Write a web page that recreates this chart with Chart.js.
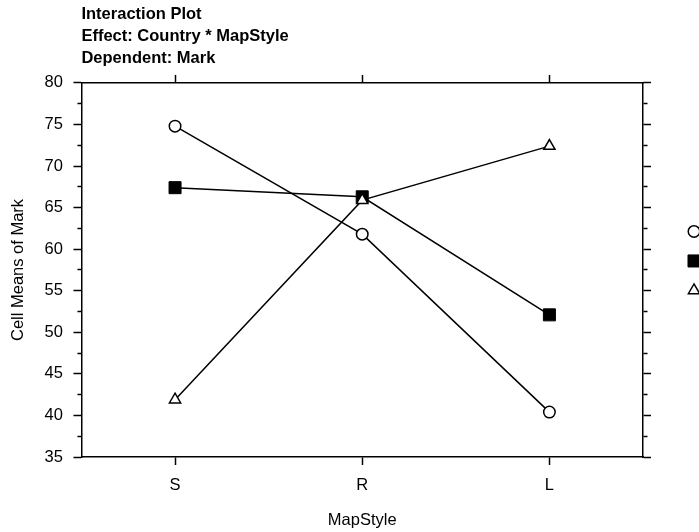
<!DOCTYPE html>
<html>
<head>
<meta charset="utf-8">
<title>Interaction Plot</title>
<script src="https://cdn.jsdelivr.net/npm/chart.js@4/dist/chart.umd.min.js"></script>
<style>
  html, body { margin: 0; padding: 0; background: #fff; }
  #wrap { width: 699px; height: 532px; overflow: hidden; }
  canvas { display: block; }
</style>
</head>
<body>
<div id="wrap"><canvas id="chart" width="699" height="532"></canvas></div>
<script>
// Cell means of Mark for each Country level, by MapStyle
const mapStyles = ['S', 'R', 'L'];
const countryA = [74.8, 61.8, 40.4];   // open circles
const countryB = [67.4, 66.3, 52.1];   // filled squares
const countryC = [41.9, 65.9, 72.4];   // open triangles

const titleLines = ['Interaction Plot', 'Effect: Country * MapStyle', 'Dependent: Mark'];
const yMin = 35, yMax = 80, yMinorStep = 2.5, yMajorStep = 5;

Chart.defaults.font.family = "'Liberation Sans', Arial, Helvetica, sans-serif";
Chart.defaults.font.size = 16.5;
Chart.defaults.color = '#000';

const isMinor = (ctx) => ctx.tick && Math.abs(ctx.tick.value % yMajorStep) > 1e-9;

// right-hand legend: symbols only, cropped by the canvas edge
const symbolLegend = {
  id: 'symbolLegend',
  afterDraw(chart) {
    const {ctx, chartArea} = chart;
    const x = chartArea.right + 51;
    const mid = (chartArea.top + chartArea.bottom) / 2 - 9;
    chart.data.datasets.forEach((ds, i) => {
      const y = mid + (i - 1) * 29.5;
      ctx.save();
      ctx.fillStyle = ds.pointBackgroundColor;
      ctx.strokeStyle = ds.pointBorderColor;
      ctx.lineWidth = ds.pointBorderWidth;
      Chart.helpers.drawPoint(ctx, {
        pointStyle: ds.pointStyle,
        radius: ds.pointRadius,
        borderWidth: ds.pointBorderWidth,
        rotation: 0
      }, x, y);
      ctx.restore();
    });
  }
};

const frameBorder = { display: true, color: '#000', width: 1.5 };

new Chart(document.getElementById('chart'), {
  type: 'line',
  data: {
    labels: mapStyles,
    datasets: [
      {
        data: countryA, order: 3,
        borderColor: '#000', borderWidth: 1.5, fill: false, tension: 0,
        pointStyle: 'circle', pointRadius: 5.75,
        pointBackgroundColor: '#fff', pointBorderColor: '#000', pointBorderWidth: 1.5
      },
      {
        data: countryB, order: 2,
        borderColor: '#000', borderWidth: 1.5, fill: false, tension: 0,
        pointStyle: 'rect', pointRadius: 8.5,
        pointBackgroundColor: '#000', pointBorderColor: '#000', pointBorderWidth: 1
      },
      {
        data: countryC, order: 1,
        borderColor: '#000', borderWidth: 1.5, fill: false, tension: 0,
        pointStyle: 'triangle', pointRadius: 6.5,
        pointBackgroundColor: '#fff', pointBorderColor: '#000', pointBorderWidth: 1.5
      }
    ]
  },
  options: {
    responsive: false,
    animation: false,
    events: [],
    layout: { padding: { left: 0, right: 48, top: 0, bottom: 0 } },
    plugins: {
      legend: { display: false },
      tooltip: { enabled: false },
      title: {
        display: true,
        text: titleLines,
        align: 'start',
        fullSize: false,
        color: '#000',
        font: { size: 16.5, weight: 'bold', lineHeight: 1.35 },
        padding: { top: 3, bottom: 5.1 }
      }
    },
    scales: {
      x: {
        type: 'category',
        position: 'bottom',
        offset: true,
        grid: {
          display: true, drawOnChartArea: false, offset: false,
          drawTicks: true, tickLength: 8, tickColor: '#000', tickWidth: 1.5
        },
        border: frameBorder,
        ticks: { padding: 11, color: '#000', maxRotation: 0 },
        title: {
          display: true, text: 'MapStyle', color: '#000',
          font: { size: 16.5 }, padding: { top: 4.2, bottom: 1.2 }
        }
      },
      x2: {
        type: 'category',
        axis: 'x',
        position: 'top',
        offset: true,
        grid: {
          display: true, drawOnChartArea: false, offset: false,
          drawTicks: true, tickLength: 8, tickColor: '#000', tickWidth: 1.5
        },
        border: frameBorder,
        ticks: { display: false }
      },
      y: {
        type: 'linear',
        position: 'left',
        min: yMin, max: yMax,
        grid: {
          display: true, drawOnChartArea: false,
          drawTicks: true, tickLength: 8, tickColor: '#000', tickWidth: 1.5,
          tickBorderDash: (ctx) => (isMinor(ctx) ? [4, 4] : []),
          tickBorderDashOffset: (ctx) => (isMinor(ctx) ? 4 : 0)
        },
        border: frameBorder,
        ticks: {
          stepSize: yMinorStep,
          autoSkip: false,
          padding: 10.5,
          color: '#000',
          callback: (v) => (Math.abs(v % yMajorStep) < 1e-9 ? String(v) : '')
        },
        title: {
          display: true, text: 'Cell Means of Mark', color: '#000',
          font: { size: 16.5 }, padding: { top: 9, bottom: 5.3 }
        }
      },
      y2: {
        type: 'linear',
        axis: 'y',
        position: 'right',
        min: yMin, max: yMax,
        grid: {
          display: true, drawOnChartArea: false,
          drawTicks: true, tickLength: 8, tickColor: '#000', tickWidth: 1.5,
          tickBorderDash: (ctx) => (isMinor(ctx) ? [4, 4] : []),
          tickBorderDashOffset: 0
        },
        border: frameBorder,
        ticks: { display: false, stepSize: yMinorStep, autoSkip: false }
      }
    }
  },
  plugins: [symbolLegend]
});
</script>
</body>
</html>
